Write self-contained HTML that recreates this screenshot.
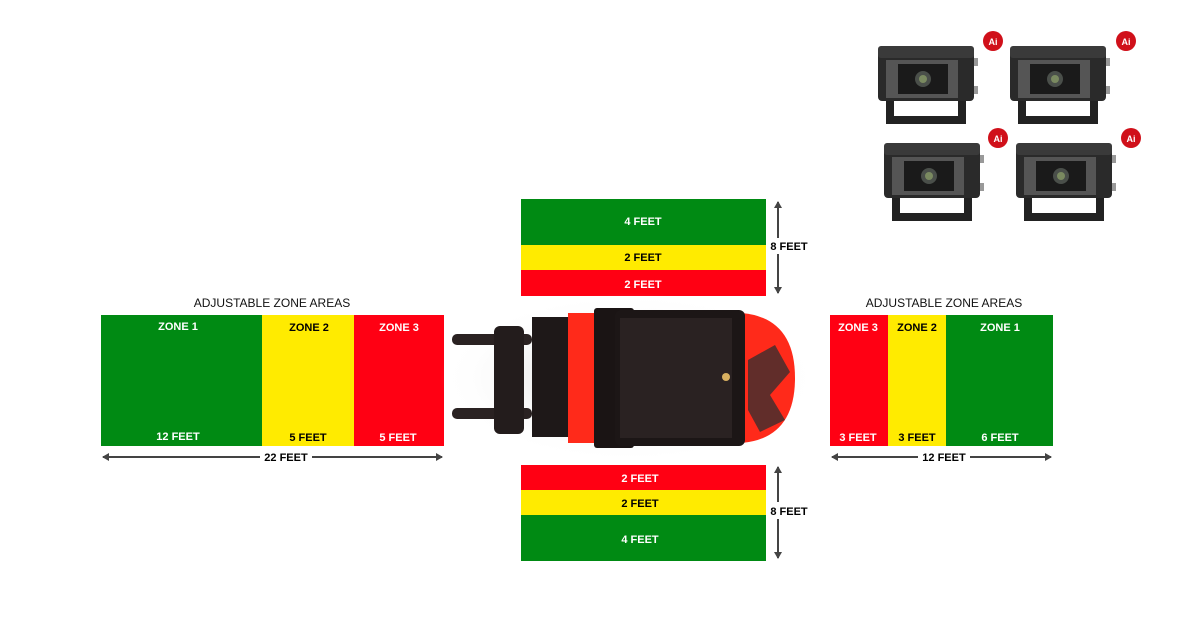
<!DOCTYPE html>
<html><head><meta charset="utf-8"><style>
html,body{margin:0;padding:0;background:#fff;width:1200px;height:618px;overflow:hidden}
svg{display:block}
text{font-family:"Liberation Sans",Arial,sans-serif;font-weight:bold;font-size:11px}
</style></head><body>
<svg width="1200" height="618" viewBox="0 0 1200 618" xmlns="http://www.w3.org/2000/svg">
<defs>
<marker id="ah" markerWidth="8" markerHeight="8" refX="6" refY="4" orient="auto-start-reverse" markerUnits="userSpaceOnUse"><path d="M0,0 L7,4 L0,8 z" fill="#444"/></marker>
<radialGradient id="sh" cx="0.5" cy="0.5" r="0.5"><stop offset="0" stop-color="#ccc"/><stop offset="1" stop-color="#fff" stop-opacity="0"/></radialGradient>
<g id="cam">
<rect x="0" y="5" width="96" height="50" rx="4" fill="#2a2a2a"/>
<rect x="0" y="0" width="96" height="12" rx="3" fill="#3a3a3a"/>
<rect x="8" y="14" width="72" height="38" fill="#555"/>
<rect x="20" y="18" width="50" height="30" fill="#1a1a1a"/>
<circle cx="45" cy="33" r="8" fill="#4a4f4a"/><circle cx="45" cy="33" r="4" fill="#7a8a60"/>
<path d="M8,55 L8,78 L88,78 L88,55 L80,55 L80,70 L16,70 L16,55z" fill="#222"/>
<rect x="96" y="12" width="4" height="8" fill="#999"/><rect x="96" y="40" width="4" height="8" fill="#999"/>
</g>
</defs>
<!-- cameras -->
<use href="#cam" x="878" y="46"/><use href="#cam" x="1010" y="46"/>
<use href="#cam" x="884" y="143"/><use href="#cam" x="1016" y="143"/>
<g fill="#d0101a"><circle cx="993" cy="41" r="10"/><circle cx="1126" cy="41" r="10"/><circle cx="998" cy="138" r="10"/><circle cx="1131" cy="138" r="10"/></g>
<g fill="#fff" font-size="9" text-anchor="middle"><text x="993" y="45" style="font-size:9px">Ai</text><text x="1126" y="45" style="font-size:9px">Ai</text><text x="998" y="142" style="font-size:9px">Ai</text><text x="1131" y="142" style="font-size:9px">Ai</text></g>

<!-- top zones -->
<rect x="521" y="199" width="245" height="46" fill="#008a13"/>
<rect x="521" y="245" width="245" height="25" fill="#ffeb00"/>
<rect x="521" y="270" width="245" height="26" fill="#ff0013"/>
<g text-anchor="middle"><text x="643" y="225" fill="#fff">4 FEET</text><text x="643" y="261" fill="#000">2 FEET</text><text x="643" y="288" fill="#fff">2 FEET</text></g>
<line x1="778" y1="202" x2="778" y2="238" stroke="#444" stroke-width="2" marker-start="url(#ah)"/>
<line x1="778" y1="254" x2="778" y2="293" stroke="#444" stroke-width="2" marker-end="url(#ah)"/>
<text x="789" y="250" text-anchor="middle" fill="#000">8 FEET</text>

<!-- bottom zones -->
<rect x="521" y="465" width="245" height="25" fill="#ff0013"/>
<rect x="521" y="490" width="245" height="25" fill="#ffeb00"/>
<rect x="521" y="515" width="245" height="46" fill="#008a13"/>
<g text-anchor="middle"><text x="640" y="482" fill="#fff">2 FEET</text><text x="640" y="507" fill="#000">2 FEET</text><text x="640" y="543" fill="#fff">4 FEET</text></g>
<line x1="778" y1="467" x2="778" y2="502" stroke="#444" stroke-width="2" marker-start="url(#ah)"/>
<line x1="778" y1="519" x2="778" y2="558" stroke="#444" stroke-width="2" marker-end="url(#ah)"/>
<text x="789" y="515" text-anchor="middle" fill="#000">8 FEET</text>

<!-- left zones -->
<text x="272" y="307" text-anchor="middle" fill="#111" style="font-weight:normal;font-size:12px">ADJUSTABLE ZONE AREAS</text>
<rect x="101" y="315" width="161" height="131" fill="#008a13"/>
<rect x="262" y="315" width="92" height="131" fill="#ffeb00"/>
<rect x="354" y="315" width="90" height="131" fill="#ff0013"/>
<g text-anchor="middle"><text x="178" y="330" fill="#fff">ZONE 1</text><text x="309" y="331" fill="#000">ZONE 2</text><text x="399" y="331" fill="#fff">ZONE 3</text>
<text x="178" y="440" fill="#fff">12 FEET</text><text x="308" y="441" fill="#000">5 FEET</text><text x="398" y="441" fill="#fff">5 FEET</text></g>
<line x1="103" y1="457" x2="260" y2="457" stroke="#444" stroke-width="2" marker-start="url(#ah)"/>
<line x1="312" y1="457" x2="442" y2="457" stroke="#444" stroke-width="2" marker-end="url(#ah)"/>
<text x="286" y="461" text-anchor="middle" fill="#000">22 FEET</text>

<!-- right zones -->
<text x="944" y="307" text-anchor="middle" fill="#111" style="font-weight:normal;font-size:12px">ADJUSTABLE ZONE AREAS</text>
<rect x="830" y="315" width="58" height="131" fill="#ff0013"/>
<rect x="888" y="315" width="58" height="131" fill="#ffeb00"/>
<rect x="946" y="315" width="107" height="131" fill="#008a13"/>
<g text-anchor="middle"><text x="858" y="331" fill="#fff">ZONE 3</text><text x="917" y="331" fill="#000">ZONE 2</text><text x="1000" y="331" fill="#fff">ZONE 1</text>
<text x="858" y="441" fill="#fff">3 FEET</text><text x="917" y="441" fill="#000">3 FEET</text><text x="1000" y="441" fill="#fff">6 FEET</text></g>
<line x1="832" y1="457" x2="918" y2="457" stroke="#444" stroke-width="2" marker-start="url(#ah)"/>
<line x1="970" y1="457" x2="1051" y2="457" stroke="#444" stroke-width="2" marker-end="url(#ah)"/>
<text x="944" y="461" text-anchor="middle" fill="#000">12 FEET</text>

<!-- forklift -->
<ellipse cx="630" cy="378" rx="190" ry="85" fill="url(#sh)"/>
<rect x="452" y="334" width="80" height="11" rx="5" fill="#2a2222"/>
<rect x="452" y="408" width="80" height="11" rx="5" fill="#2a2222"/>
<rect x="494" y="326" width="30" height="108" rx="6" fill="#231c1c"/>
<rect x="532" y="317" width="40" height="120" fill="#1e1818"/>
<rect x="568" y="313" width="40" height="130" fill="#ff2a1a"/>
<rect x="594" y="308" width="40" height="140" rx="3" fill="#1a1414"/>
<path d="M742,313 Q795,318 795,378 Q795,438 742,443 Z" fill="#ff2a1a"/>
<rect x="615" y="310" width="130" height="136" rx="6" fill="#1c1616"/>
<rect x="620" y="318" width="112" height="120" fill="#2a2222"/>
<circle cx="726" cy="377" r="4" fill="#d8b060"/>
<path d="M748,360 L775,345 L790,372 L770,395 L785,420 L760,432 L748,410z" fill="#3a2e2e" opacity="0.8"/>
</svg>
</body></html>
